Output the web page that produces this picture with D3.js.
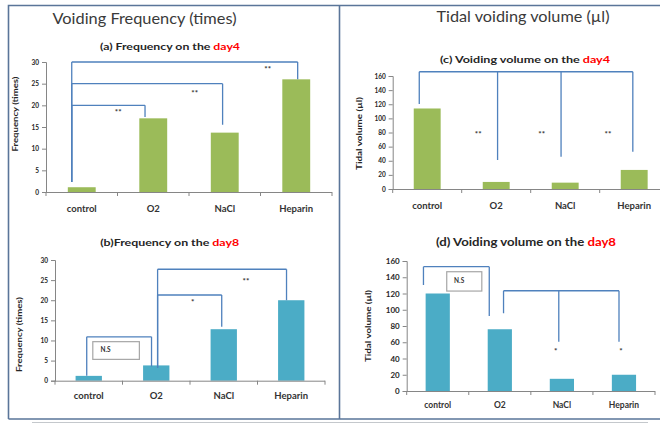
<!DOCTYPE html>
<html>
<head>
<meta charset="utf-8">
<script src="https://cdn.jsdelivr.net/npm/d3@7"></script>
<style>
  html, body { margin: 0; padding: 0; background: #fff; }
  svg { display: block; font-family: Lato, "Open Sans", "Liberation Sans", sans-serif; }
</style>
</head>
<body>
<svg id="chart" width="660" height="424"></svg>
<script>
// ---- data ----
const categories = ["control", "O2", "NaCl", "Heparin"];
const freqDay4 = [1.1, 17, 13.7, 26];
const freqDay8 = [1.2, 3.8, 12.8, 20];
const volDay4 = [114, 10, 9, 27];
const volDay8 = [120, 76, 15, 20];
const freqTicks = [0, 5, 10, 15, 20, 25, 30];
const volTicks = [0, 20, 40, 60, 80, 100, 120, 140, 160];

// significance brackets: x in category-index units, levels in data units
const sigFreqDay4 = [
  { level: 30, x1: -0.14, x2: 3.02, drops: [[-0.14, 2.3], [3.02, 26]] },
  { level: 25, x1: -0.14, x2: 1.97, drops: [[-0.14, 2.3], [1.97, 15.5]] },
  { level: 20, x1: -0.14, x2: 0.885, drops: [[-0.14, 2.3], [0.885, 17.3]] }
];
const starsFreqDay4 = [
  { x: 0.51, v: 18.2, t: "**" }, { x: 1.58, v: 22.6, t: "**" }, { x: 2.6, v: 28.2, t: "**" }
];
const sigFreqDay8 = [
  { level: 10.9, x1: -0.03, x2: 0.93, drops: [[-0.03, 1.2], [0.93, 3.5]] },
  { level: 21.3, x1: 1.02, x2: 1.97, drops: [[1.02, 3.2], [1.97, 13.4]] },
  { level: 27.7, x1: 1.02, x2: 2.93, drops: [[1.02, 3.2], [2.93, 20]] }
];
const starsFreqDay8 = [
  { x: 1.54, v: 19.4, t: "*" }, { x: 2.33, v: 24.6, t: "**" }
];
const nsFreqDay8 = { x1: 0.06, x2: 0.75, v1: 9.7, v2: 5.3, lx: 0.25, lv: 7.5, t: "N.S" };

const sigVolDay4 = [
  { level: 166, x1: -0.115, x2: 2.98,
    drops: [[-0.115, 120.4], [1.02, 41], [1.94, 45.7], [2.98, 52.8]] }
];
const starsVolDay4 = [
  { x: 0.74, v: 76.5, t: "**" }, { x: 1.66, v: 76.5, t: "**" }, { x: 2.62, v: 76.5, t: "**" }
];
const sigVolDay8 = [
  { level: 153, x1: -0.23, x2: 0.83, drops: [[-0.23, 130.5], [0.83, 92.3]] },
  { level: 123.4, x1: 1.06, x2: 2.92, drops: [[1.06, 95.6], [1.95, 60.7], [2.92, 60.7]] }
];
const starsVolDay8 = [
  { x: 1.9, v: 48.4, t: "*" }, { x: 2.95, v: 48.4, t: "*" }
];
const nsVolDay8 = { x1: 0.145, x2: 0.71, v1: 146.8, v2: 123, lx: 0.345, lv: 135, t: "N.S" };

// ---- styles ----
const GREEN = "#9bbb59", BLUE = "#4bacc6", LINE = "#4f81bd", AXIS = "#868686", FRAME = "#5a7599";
const TXT = "#262626";

const svg = d3.select("#chart");

// outer frame
svg.append("path")
  .attr("d", "M8.5,419 V5.5 H660 M339.5,5.5 V419 M8.5,419 H339.5 M339.5,419 H660")
  .attr("fill", "none").attr("stroke", FRAME).attr("stroke-width", 1.6);
svg.append("line").attr("x1", 32).attr("x2", 648).attr("y1", 422.5).attr("y2", 422.5)
  .attr("stroke", "#c4c8cc").attr("stroke-width", 1.2);

// section headings
svg.append("text").attr("x", 52.5).attr("y", 24).attr("font-size", 16).attr("fill", "#3a3a3a")
  .attr("textLength", 184).attr("lengthAdjust", "spacingAndGlyphs")
  .text("Voiding Frequency (times)");
svg.append("text").attr("x", 436.5).attr("y", 22).attr("font-size", 16).attr("fill", "#3a3a3a")
  .attr("textLength", 173).attr("lengthAdjust", "spacingAndGlyphs")
  .text("Tidal voiding volume (µl)");

const panels = [
  { values: freqDay4, ticks: freqTicks, max: 30, color: GREEN,
    xr: [46, 332], yr: [192, 62], tickFont: 6.5, catFont: 9.5, catY: 212,
    title: ["(a)  Frequency on the ", "day4"], titleX: 170, titleY: 49.5, titleFont: 10, titleLen: 140,
    yTitle: "Frequency (times)", yTitleX: 16.5, yTitleY: 114, yTitleFont: 7.5, yTitleLen: 75,
    sig: sigFreqDay4, stars: starsFreqDay4, ns: null },
  { values: freqDay8, ticks: freqTicks, max: 30, color: BLUE,
    xr: [55, 325], yr: [380.7, 260], tickFont: 6.5, catFont: 9.5, catY: 398.5,
    title: ["(b)Frequency on the ", "day8"], titleX: 169.7, titleY: 246, titleFont: 10, titleLen: 139,
    yTitle: "Frequency (times)", yTitleX: 20.5, yTitleY: 334.5, yTitleFont: 7.5, yTitleLen: 75,
    sig: sigFreqDay8, stars: starsFreqDay8, ns: nsFreqDay8 },
  { values: volDay4, ticks: volTicks, max: 160, color: GREEN,
    xr: [392.7, 668.7], yr: [189, 76], tickFont: 6.5, catFont: 9.5, catY: 208.5,
    title: ["(c) Voiding volume  on the ", "day4"], titleX: 525, titleY: 62.5, titleFont: 10, titleLen: 170,
    yTitle: "Tidal volume (µl)", yTitleX: 360, yTitleY: 133.5, yTitleFont: 7.5, yTitleLen: 73,
    sig: sigVolDay4, stars: starsVolDay4, ns: null },
  { values: volDay8, ticks: volTicks, max: 160, color: BLUE,
    xr: [406.7, 655], yr: [391, 261], tickFont: 8, catFont: 8.5, catY: 408,
    title: ["(d)  Voiding  volume on the ", "day8"], titleX: 526, titleY: 245.5, titleFont: 11, titleLen: 180,
    yTitle: "Tidal volume (µl)", yTitleX: 368.5, yTitleY: 326, yTitleFont: 8, yTitleLen: 72,
    sig: sigVolDay8, stars: starsVolDay8, ns: nsVolDay8 }
];

panels.forEach(p => {
  const g = svg.append("g");
  const x = d3.scaleBand().domain(categories).range(p.xr).paddingInner(0.61).paddingOuter(0.305);
  const step = (p.xr[1] - p.xr[0]) / categories.length;
  // category-index position -> pixel (index 0 = centre of first band)
  const xi = d3.scaleLinear().domain([0, 1]).range([p.xr[0] + step / 2, p.xr[0] + step * 1.5]);
  const y = d3.scaleLinear().domain([0, p.max]).range(p.yr);

  // bars
  g.selectAll("rect.bar").data(p.values).join("rect")
    .attr("class", "bar")
    .attr("x", (d, i) => x(categories[i]))
    .attr("width", x.bandwidth())
    .attr("y", d => y(d))
    .attr("height", d => y(0) - y(d))
    .attr("fill", p.color);

  // y axis
  const yAxis = g.append("g").attr("transform", `translate(${p.xr[0]},0)`)
    .call(d3.axisLeft(y).tickValues(p.ticks).tickSize(4).tickPadding(3));
  yAxis.select(".domain").attr("stroke", AXIS);
  yAxis.selectAll(".tick line").attr("stroke", AXIS);
  yAxis.selectAll(".tick text").attr("font-size", p.tickFont).attr("font-weight", 700)
    .attr("fill", TXT).attr("font-family", "Lato, sans-serif");

  // x axis with ticks at band edges
  const edges = d3.range(categories.length + 1).map(i => p.xr[0] + i * step);
  const xAxisG = g.append("g");
  xAxisG.append("line").attr("x1", p.xr[0]).attr("x2", p.xr[1])
    .attr("y1", y(0) + 0.5).attr("y2", y(0) + 0.5).attr("stroke", AXIS);
  xAxisG.selectAll("line.edge").data(edges).join("line").attr("class", "edge")
    .attr("x1", d => d).attr("x2", d => d)
    .attr("y1", y(0)).attr("y2", y(0) + 4).attr("stroke", AXIS);
  xAxisG.selectAll("text").data(categories).join("text")
    .attr("x", d => x(d) + x.bandwidth() / 2)
    .attr("y", p.catY)
    .attr("text-anchor", "middle")
    .attr("font-size", p.catFont).attr("font-weight", 700)
    .attr("fill", "#333").text(d => d);

  // y-axis title
  g.append("text")
    .attr("transform", `translate(${p.yTitleX},${p.yTitleY}) rotate(-90)`)
    .attr("text-anchor", "middle").attr("dominant-baseline", "middle")
    .attr("font-size", p.yTitleFont).attr("font-weight", 700).attr("fill", TXT)
    .attr("textLength", p.yTitleLen).attr("lengthAdjust", "spacingAndGlyphs")
    .text(p.yTitle);

  // chart title with red day label
  const t = g.append("text").attr("x", p.titleX).attr("y", p.titleY)
    .attr("text-anchor", "middle").attr("font-size", p.titleFont).attr("font-weight", 700)
    .attr("fill", TXT).attr("textLength", p.titleLen).attr("lengthAdjust", "spacingAndGlyphs");
  t.append("tspan").text(p.title[0]);
  t.append("tspan").attr("fill", "#ff0000").text(p.title[1]);

  // significance brackets
  p.sig.forEach(b => {
    const path = d3.path();
    path.moveTo(xi(b.x1), y(b.level));
    path.lineTo(xi(b.x2), y(b.level));
    b.drops.forEach(([dx, dv]) => {
      path.moveTo(xi(dx), y(b.level));
      path.lineTo(xi(dx), y(dv));
    });
    g.append("path").attr("d", path.toString()).attr("fill", "none")
      .attr("stroke", LINE).attr("stroke-width", 1.3);
  });
  g.selectAll("text.star").data(p.stars).join("text").attr("class", "star")
    .attr("x", d => xi(d.x)).attr("y", d => y(d.v))
    .attr("text-anchor", "middle").attr("dominant-baseline", "middle")
    .attr("font-size", 8).attr("font-weight", 700).attr("fill", "#333").text(d => d.t);

  if (p.ns) {
    const n = p.ns;
    g.append("rect")
      .attr("x", xi(n.x1)).attr("y", y(n.v1))
      .attr("width", xi(n.x2) - xi(n.x1)).attr("height", y(n.v2) - y(n.v1))
      .attr("fill", "#fff").attr("stroke", "#a6a6a6").attr("stroke-width", 1.2);
    g.append("text").attr("x", xi(n.lx)).attr("y", y(n.lv))
      .attr("text-anchor", "middle").attr("dominant-baseline", "middle")
      .attr("font-size", 6.5).attr("font-weight", 700).attr("fill", "#333").text(n.t);
  }
});
</script>
</body>
</html>
